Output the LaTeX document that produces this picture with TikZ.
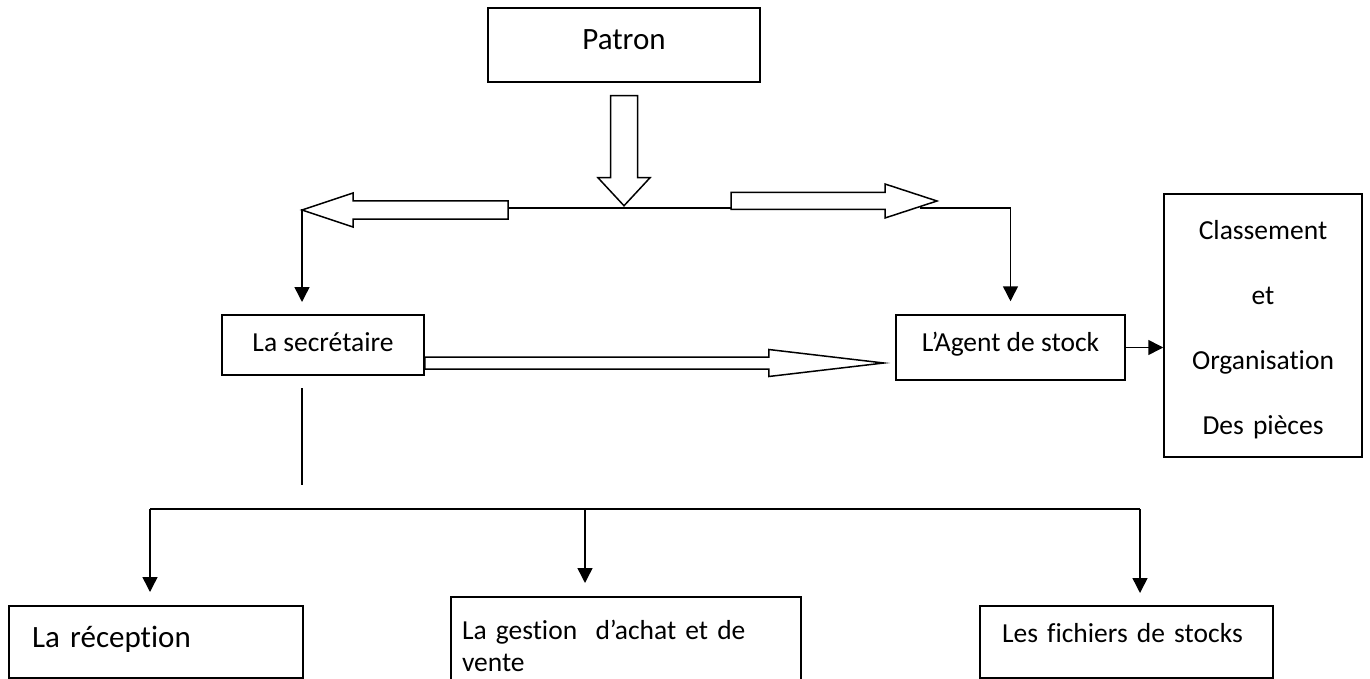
\documentclass[tikz,border=0pt]{standalone}
\usepackage{fontspec}
\setmainfont{Carlito}[Ligatures={TeX,NoCommon}]
\usetikzlibrary{arrows.meta,calc}

% hollow block arrow: tail, angle, length, head length, half shaft, half head
\newcommand{\hollowarrow}[6]{%
  \draw[hollow,shift={(#1)},rotate=#2] (0,-#5) -- (#3-#4,-#5) -- (#3-#4,-#6)
    -- (#3,0) -- (#3-#4,#6) -- (#3-#4,#5) -- (0,#5) -- cycle;}

\begin{document}
\begin{tikzpicture}[x=1pt,y=-1pt,
    box/.style={draw,line width=1.5pt,inner sep=0pt,font=\fontsize{27.5}{32}\selectfont},
    big/.style={font=\fontsize{31}{36}\selectfont},
    link/.style={line width=1.5pt},
    tip/.style={link,-{Triangle[width=15pt,length=15pt]}},
    hollow/.style={line width=1.5pt,fill=white}]
  \useasboundingbox (0,0) rectangle (1370,679);

  % boxes
  \node[box,big,minimum width=272pt,minimum height=74pt,text height=23pt,text depth=13pt] (patron) at (624,45) {Patron};
  \node[box,minimum width=202pt,minimum height=60pt,text height=19pt,text depth=6pt] (secretaire) at (323,345) {La secrétaire};
  \node[box,minimum width=229pt,minimum height=65pt,text height=19pt,text depth=11pt] (agent) at (1010.5,347.5) {L'Agent de stock};
  \node[box,minimum width=198pt,minimum height=263pt,text width=198pt,align=center,
        font=\fontsize{27.5}{65}\selectfont,text height=29pt,text depth=200pt] (classement) at (1263,325.5)
        {Classement\\et\\Organisation\\Des pièces};
  \node[box,big,minimum width=294pt,minimum height=72pt,text width=248pt,inner xsep=23pt,align=left,
        text height=23pt,text depth=13pt] (reception) at (156,642) {La réception};
  \node[box,minimum width=350pt,minimum height=90pt,text width=328pt,inner xsep=11pt,align=left,
        text height=28pt] (gestion) at (626,642) {La gestion~ d'achat et de\\vente};
  \node[box,minimum width=293pt,minimum height=72pt,text width=249pt,inner xsep=22pt,align=left,
        text height=19pt,text depth=19pt] (fichiers) at (1126.5,642) {Les fichiers de stocks};

  % lines under the block arrows
  \draw[link] (508,208) -- (731,208);
  \draw[tip] (920,208) -| ($(agent.north)+(0,-13)$);

  % block arrows
  \coordinate (top) at ($(patron.south)+(0,13)$);
  \coordinate (ltail) at (508,210);
  \coordinate (rtail) at (731,201);
  \coordinate (stail) at (secretaire.east |- 0,363);
  \hollowarrow{top}{-90}{110}{28}{13.5}{26}
  \hollowarrow{ltail}{180}{206}{51}{9}{17}
  \hollowarrow{rtail}{0}{206}{52}{8.5}{17}
  \hollowarrow{stail}{0}{459}{115}{6}{13.5}

  \draw[tip] (302,209) -- (302,302);
  \draw[tip] (agent.east) -- (classement.west |- agent.east);

  % secretaire to the three services
  \draw[link] (302,388) -- (302,485);
  \draw[link] (150,509) -- (1140,509);
  \foreach \x/\y in {150/592,585/583,1140/593}
    \draw[tip] (\x,509) -- (\x,\y);
\end{tikzpicture}
\end{document}
